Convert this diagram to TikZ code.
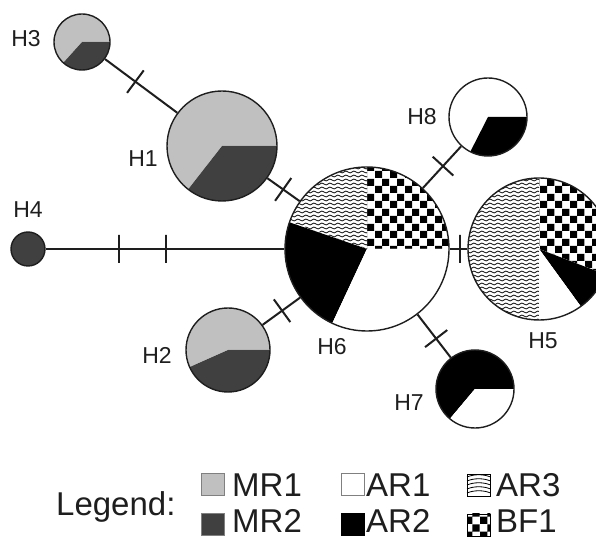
\documentclass[tikz,border=0pt]{standalone}
\usepackage{fontspec}
\setmainfont{Liberation Sans}
\usetikzlibrary{patterns}
\pgfdeclarepatternformonly{mychecker}{\pgfpointorigin}{\pgfqpoint{15pt}{15pt}}{\pgfqpoint{15pt}{15pt}}{%
  \pgfpathrectangle{\pgfpointorigin}{\pgfqpoint{7.5pt}{7.5pt}}%
  \pgfpathrectangle{\pgfqpoint{7.5pt}{7.5pt}}{\pgfqpoint{7.5pt}{7.5pt}}%
  \pgfusepath{fill}}
\pgfdeclarepatternformonly{mywaves}{\pgfqpoint{-1pt}{-1pt}}{\pgfqpoint{9pt}{5pt}}{\pgfqpoint{8pt}{4pt}}{%
  \pgfsetlinewidth{0.7pt}%
  \pgfpathmoveto{\pgfqpoint{-0.2pt}{2pt}}%
  \pgfpathcurveto{\pgfqpoint{1.33pt}{3.3pt}}{\pgfqpoint{2.67pt}{3.3pt}}{\pgfqpoint{4pt}{2pt}}%
  \pgfpathcurveto{\pgfqpoint{5.33pt}{0.7pt}}{\pgfqpoint{6.67pt}{0.7pt}}{\pgfqpoint{8.2pt}{2pt}}%
  \pgfusepath{stroke}}
\definecolor{mrone}{HTML}{C0C0C0}
\definecolor{mrtwo}{HTML}{404040}
\definecolor{edgec}{HTML}{1E1E1E}
\newcommand\pieslicex[5]{%
  \fill[white] (#1) -- ++(#3:#2) arc[start angle=#3, end angle=#4, radius=#2] -- cycle;
  \fill[#5] (#1) -- ++(#3:#2) arc[start angle=#3, end angle=#4, radius=#2] -- cycle;}
\tikzset{
  hap/.style={circle, draw=edgec, line width=1.4pt, inner sep=0pt, minimum size=#1},
  mr1/.style={fill=mrone}, mr2/.style={fill=mrtwo},
  ar1/.style={fill=white}, ar2/.style={fill=black},
  ar3/.style={pattern=mywaves, pattern color=black},
  bf1/.style={pattern=mychecker, pattern color=black},
  link/.style={draw=edgec, line width=2pt},
  mtick/.style={draw=edgec, line width=2pt, inner sep=0pt, minimum width=0pt, minimum height=28pt, sloped, shape=rectangle},
  lab/.style={font=\fontsize{23}{27}\selectfont, inner sep=0pt, text=edgec},
  legtext/.style={font=\fontsize{33}{38}\selectfont, inner sep=0pt, anchor=base west, text=edgec},
  legbox/.style={draw=gray, line width=0.8pt, minimum width=23pt, minimum height=22pt, inner sep=0pt, anchor=south west},
  legwave/.style={draw=black, line width=0.8pt}
}
\begin{document}
\begin{tikzpicture}[x=1pt, y=1pt]
\useasboundingbox (0,0) rectangle (596,538);
\clip (0,0) rectangle (596,538);
% centres
\coordinate (c3) at (82,496);
\coordinate (c1) at (222,392);
\coordinate (c4) at (28,289);
\coordinate (c6) at (367,289);
\coordinate (c5) at (539,289);
\coordinate (c8) at (488,421);
\coordinate (c7) at (475,149);
\coordinate (c2) at (228,188);
% slices
\pieslicex{c3}{28pt}{0}{228}{mr1}
\pieslicex{c3}{28pt}{-132}{0}{mr2}
\pieslicex{c1}{55pt}{0}{232}{mr1}
\pieslicex{c1}{55pt}{-128}{0}{mr2}
\pieslicex{c2}{42pt}{0}{204}{mr1}
\pieslicex{c2}{42pt}{-156}{0}{mr2}
\pieslicex{c8}{39pt}{0}{243}{ar1}
\pieslicex{c8}{39pt}{-117}{0}{ar2}
\pieslicex{c7}{39pt}{0}{230}{ar2}
\pieslicex{c7}{39pt}{-130}{0}{ar1}
\pieslicex{c6}{82pt}{0}{90}{bf1}
\pieslicex{c6}{82pt}{90}{161}{ar3}
\pieslicex{c6}{82pt}{161}{245}{ar2}
\pieslicex{c6}{82pt}{245}{360}{ar1}
\pieslicex{c5}{71pt}{-21}{90}{bf1}
\pieslicex{c5}{71pt}{90}{270}{ar3}
\pieslicex{c5}{71pt}{-54}{-21}{ar2}
\pieslicex{c5}{71pt}{-90}{-54}{ar1}
% haplotype circles
\node[hap=56pt] (H3) at (c3) {};
\node[hap=110pt] (H1) at (c1) {};
\node[hap=34pt, fill=mrtwo] (H4) at (c4) {};
\node[hap=164pt] (H6) at (c6) {};
\node[hap=142pt] (H5) at (c5) {};
\node[hap=78pt] (H8) at (c8) {};
\node[hap=78pt] (H7) at (c7) {};
\node[hap=84pt] (H2) at (c2) {};
% connectors
\draw[link] (H3) -- node[mtick, pos=0.42] (t31) {} (H1);
\draw[link] (H1) -- node[mtick, pos=0.49] (t16) {} (H6);
\draw[link] (H4) -- node[mtick, pos=0.308] (t46a) {} node[mtick, pos=0.504] (t46b) {} (H6);
\draw[link] (H2) -- node[mtick, pos=0.52] (t26) {} (H6);
\draw[link] (H6) -- node[mtick, pos=0.525] (t68) {} (H8);
\draw[link] (H6) -- node[mtick, pos=0.58] (t65) {} (H5);
\draw[link] (H6) -- node[mtick, pos=0.56] (t67) {} (H7);
% labels
\node[lab] (lH3) at (26,499) {H3};
\node[lab] (lH1) at (143,379) {H1};
\node[lab] (lH4) at (28,328) {H4};
\node[lab] (lH2) at (157,183) {H2};
\node[lab] (lH8) at (422,421) {H8};
\node[lab] (lH6) at (332,191) {H6};
\node[lab] (lH5) at (543,197) {H5};
\node[lab] (lH7) at (409,135) {H7};
% legend
\node[legtext] (leg) at (56,23) {Legend:};
\node[legbox, fill=mrone] (kMR1) at (201,42) {};
\node[legbox, fill=mrtwo] (kMR2) at (201,2) {};
\node[legbox, fill=white] (kAR1) at (341,42) {};
\node[legbox, fill=black, draw=black] (kAR2) at (341,2) {};
\node[legbox, draw=black, line width=0.5pt, fill=white] (kAR3) at (467,42) {};
\foreach \yy in {45,49,53,57,61}
  \draw[legwave] ([yshift=\yy pt - 42pt]kAR3.south west) .. controls +(7,3) and +(-7,3) .. ([yshift=\yy pt - 42pt]kAR3.south east);
\node[legbox, draw=black, line width=0.5pt, fill=white] (kBF1b) at (467,2) {};
\node[legbox, draw=black, line width=0.5pt, bf1] (kBF1) at (467,2) {};
\node[legtext] (tMR1) at (232,42) {MR1};
\node[legtext] (tMR2) at (232,6) {MR2};
\node[legtext] (tAR1) at (366,42) {AR1};
\node[legtext] (tAR2) at (366,6) {AR2};
\node[legtext] (tAR3) at (496,42) {AR3};
\node[legtext] (tBF1) at (496,6) {BF1};
\end{tikzpicture}
\end{document}
